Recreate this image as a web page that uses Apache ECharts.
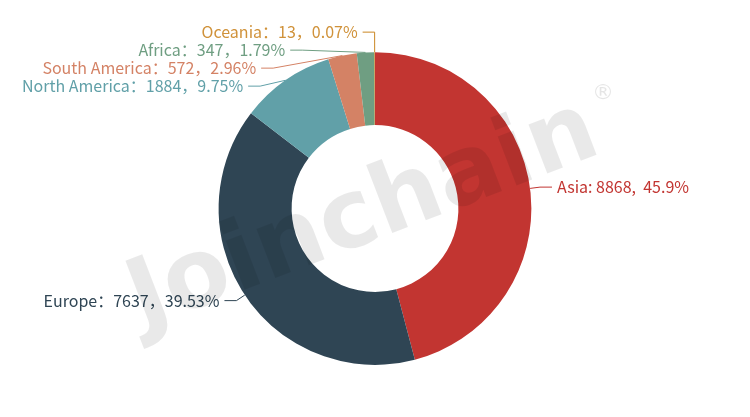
<!DOCTYPE html>
<html><head><meta charset="utf-8">
<script src="https://cdn.jsdelivr.net/npm/echarts@6/dist/echarts.min.js"></script>
<style>html,body{margin:0;padding:0;background:#fff}#c{width:750px;height:417px}</style>
</head><body><div id="c"></div>
<script>
var categories = ['Asia', 'Europe', 'North America', 'South America', 'Africa', 'Oceania'];
var values = [8868, 7637, 1884, 572, 347, 13];
var labelColors = ['#c23531', '#2f4554', '#61a0a8', '#d48265', '#6f9e82', '#d0923a'];
var sliceColors = ['#c23531', '#2f4554', '#61a0a8', '#d48265', '#6f9e82', '#ca8622'];
var lineLengths = [10, 10, 10, 20, 20, 20];

var chart = echarts.init(document.getElementById('c'));
var data = categories.map(function (n, i) {
  var d = {
    name: n, value: values[i],
    itemStyle: { color: sliceColors[i] },
    label: { color: labelColors[i] },
    labelLine: { length: lineLengths[i] }
  };
  if (n === 'Asia') d.label.formatter = '{b}: {c},  {d}%';
  return d;
});
chart.setOption({
  animation: false,
  series: [{
    type: 'pie',
    center: ['50%', '50%'],
    radius: ['40%', '75%'],
    startAngle: 90,
    label: { formatter: '{b}：{c}，{d}%', fontSize: 16, lineHeight: 14, fontFamily: 'Noto Sans CJK SC' },
    labelLine: { length: 10, length2: 12 },
    data: data
  }],
  graphic: [{
    type: 'text', z: 100, left: 116, top: 84,
    rotation: 21 * Math.PI / 180,
    style: { text: 'Joinchain', font: 'bold 96px "DejaVu Sans"', fill: 'rgba(0,0,0,0.085)' }
  }, {
    type: 'text', z: 100, left: 592, top: 82,
    style: { text: '®', font: '22px "DejaVu Sans"', fill: 'rgba(0,0,0,0.1)' }
  }]
});
</script></body></html>
